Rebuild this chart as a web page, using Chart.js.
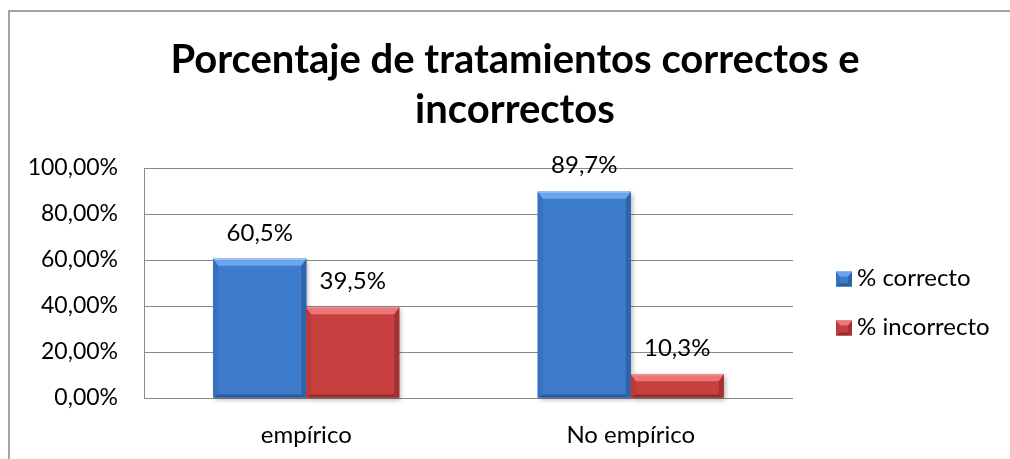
<!DOCTYPE html>
<html>
<head>
<meta charset="utf-8">
<script src="https://cdn.jsdelivr.net/npm/chart.js@4.4.1/dist/chart.umd.min.js"></script>
<style>
  html, body { margin: 0; padding: 0; background: #fff; overflow: hidden; }
  #wrap { width: 1010px; height: 459px; }
</style>
</head>
<body>
<div id="wrap"><canvas id="chart" width="1010" height="459"></canvas></div>
<script>
const categories = ['empírico', 'No empírico'];
const seriesNames = ['% correcto', '% incorrecto'];
const correcto = [60.5, 89.7];
const incorrecto = [39.5, 10.3];
const yTicks = [0, 20, 40, 60, 80, 100];

const FONT = 'Lato, Carlito, "Open Sans", sans-serif';

// face, light (top bevel), side, bottom
const palette = [
  { face: '#3d7bcb', top: '#6ba6ec', side: '#3771bd', right: '#2f64aa', bottom: '#2c5a98' },
  { face: '#c83f3f', top: '#ee7575', side: '#bb3a3a', right: '#a53232', bottom: '#952c2c' }
];

const comma = (v, d) => v.toFixed(d).replace('.', ',');

// bevelled box: dt top, ds sides, db bottom
function bevel(ctx, l, t, r, b, dt, ds, db, c) {
  const poly = (pts, col) => {
    ctx.fillStyle = col;
    ctx.beginPath();
    ctx.moveTo(pts[0][0], pts[0][1]);
    pts.slice(1).forEach(p => ctx.lineTo(p[0], p[1]));
    ctx.closePath();
    ctx.fill();
  };
  poly([[l, b], [r, b], [r - ds, b - db], [l + ds, b - db]], c.bottom);
  poly([[l, t], [l + ds, t + dt], [l + ds, b - db], [l, b]], c.side);
  poly([[r, t], [r - ds, t + dt], [r - ds, b - db], [r, b]], c.right);
  poly([[l, t], [r, t], [r - ds, t + dt], [l + ds, t + dt]], c.top);
}

// chart frame (border open at right and bottom, as in the original)
const framePlugin = {
  id: 'frame',
  beforeDraw(chart) {
    const ctx = chart.ctx;
    ctx.save();
    ctx.fillStyle = '#fff';
    ctx.fillRect(0, 0, chart.width, chart.height);
    ctx.fillStyle = '#a3a3a3';
    ctx.fillRect(8, 10, 2, chart.height - 10);
    ctx.fillRect(8, 10, chart.width - 8, 2);
    ctx.restore();
  },
  afterDraw(chart) {
    const ctx = chart.ctx;
    ctx.save();
    ctx.fillStyle = '#fff';
    ctx.fillRect(chart.width - 8, 12, 8, chart.height - 12);
    ctx.restore();
  }
};

// drop shadow under bars
const shadowPlugin = {
  id: 'barShadow',
  beforeDatasetsDraw(chart) {
    const ctx = chart.ctx;
    ctx.save();
    chart.data.datasets.forEach((ds, i) => {
      chart.getDatasetMeta(i).data.forEach(bar => {
        const { x, y, base, width } = bar.getProps(['x', 'y', 'base', 'width'], true);
        ctx.shadowColor = 'rgba(0,0,0,0.3)';
        ctx.shadowBlur = 5;
        ctx.shadowOffsetX = 2;
        ctx.shadowOffsetY = 2;
        ctx.fillStyle = palette[i].face;
        ctx.fillRect(x - width / 2, y, width, base - y);
      });
    });
    ctx.restore();
  }
};

// bevel edges on bars + value labels
const bevelPlugin = {
  id: 'bevel',
  afterDatasetsDraw(chart) {
    const ctx = chart.ctx;
    ctx.save();
    chart.data.datasets.forEach((ds, i) => {
      chart.getDatasetMeta(i).data.forEach((bar, j) => {
        const { x, y, base, width } = bar.getProps(['x', 'y', 'base', 'width'], true);
        const l = x - width / 2, r = x + width / 2;
        const h = base - y;
        bevel(ctx, l, y, r, base, Math.min(7, h / 3), 5, Math.min(3, h / 4), palette[i]);
        ctx.strokeStyle = 'rgba(255,255,255,0.35)';
        ctx.lineWidth = 1;
        ctx.beginPath();
        ctx.moveTo(l + 1, y + 0.5);
        ctx.lineTo(r - 1, y + 0.5);
        ctx.stroke();

        ctx.fillStyle = '#000';
        ctx.font = '24px ' + FONT;
        ctx.textAlign = 'center';
        ctx.textBaseline = 'middle';
        ctx.fillText(comma(ds.data[j], 1) + '%', x, y - 26);
      });
    });
    ctx.restore();
  }
};

// legend at the right of the plot area
const legendPlugin = {
  id: 'sideLegend',
  afterDraw(chart) {
    const ctx = chart.ctx;
    const area = chart.chartArea;
    ctx.save();
    chart.data.datasets.forEach((ds, i) => {
      const bx = area.right + 43;
      const cy = area.top + 111 + i * 49;
      const w = 16, h = 15;
      ctx.fillStyle = palette[i].face;
      ctx.fillRect(bx, cy - h / 2, w, h);
      bevel(ctx, bx, cy - h / 2, bx + w, cy + h / 2, 5, 4, 3, palette[i]);

      ctx.fillStyle = '#000';
      ctx.font = '24px ' + FONT;
      ctx.textAlign = 'left';
      ctx.textBaseline = 'middle';
      ctx.fillText(ds.label, bx + 21, cy - 1);
    });
    ctx.restore();
  }
};

const ctx = document.getElementById('chart').getContext('2d');

const chart = new Chart(ctx, {
  type: 'bar',
  data: {
    labels: categories,
    datasets: [
      {
        label: seriesNames[0],
        data: correcto,
        backgroundColor: palette[0].face,
        borderWidth: 0,
        categoryPercentage: 0.573,
        barPercentage: 1
      },
      {
        label: seriesNames[1],
        data: incorrecto,
        backgroundColor: palette[1].face,
        borderWidth: 0,
        categoryPercentage: 0.573,
        barPercentage: 1
      }
    ]
  },
  options: {
    responsive: false,
    animation: false,
    layout: {
      padding: { left: 20, right: 0, top: 0, bottom: 0 }
    },
    plugins: {
      legend: { display: false },
      tooltip: { enabled: false },
      title: {
        display: true,
        text: ['Porcentaje de tratamientos correctos e', 'incorrectos'],
        color: '#000',
        font: { family: FONT, size: 40, weight: 'bold', lineHeight: 50 / 40 },
        padding: { top: 35, bottom: 33 }
      }
    },
    scales: {
      x: {
        grid: { display: false },
        border: { display: false },
        ticks: {
          color: '#000',
          font: { family: FONT, size: 24 },
          padding: 15
        },
        afterFit(scale) {
          scale.height = 61;
        }
      },
      y: {
        min: 0,
        max: 100,
        position: 'left',
        grid: { color: '#8a8a8a', lineWidth: 1, drawTicks: false },
        border: { display: true, color: '#8a8a8a', width: 1 },
        ticks: {
          stepSize: 20,
          color: '#000',
          font: { family: FONT, size: 23 },
          padding: 26,
          callback: (v) => yTicks.includes(v) ? comma(v, 2) + '%' : null
        },
        afterFit(scale) {
          scale.width = 124;
        }
      },
      // empty right-hand axis that keeps room for the legend
      legendSpace: {
        type: 'linear',
        position: 'right',
        display: true,
        grid: { display: false, drawOnChartArea: false },
        border: { display: false },
        ticks: { display: false },
        afterFit(scale) {
          scale.width = 217;
        }
      }
    }
  },
  plugins: [framePlugin, shadowPlugin, bevelPlugin, legendPlugin]
});
</script>
</body>
</html>
